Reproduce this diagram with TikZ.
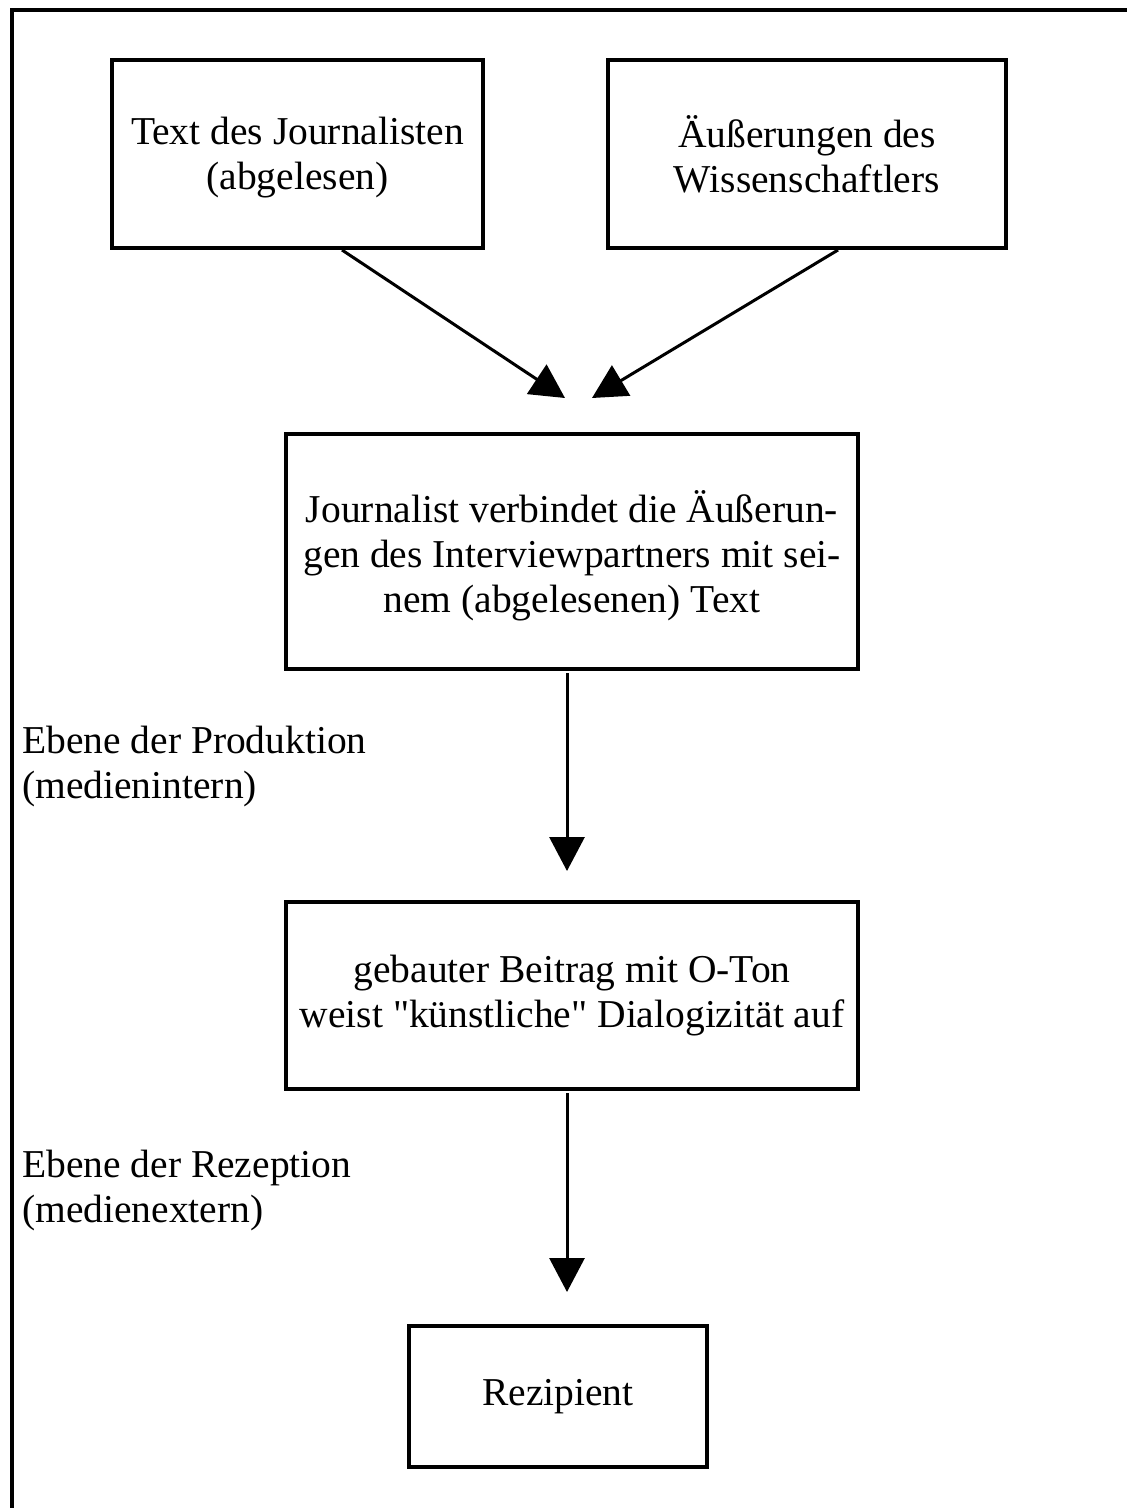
\documentclass[tikz,border=0pt]{standalone}
\usepackage{fontspec}
\setmainfont{Liberation Serif}
\newfontfamily\plainq{Liberation Serif}
\usetikzlibrary{arrows.meta}
\newcommand{\straightq}{{\plainq"}}
\begin{document}
\begin{tikzpicture}[x=1pt,y=-1pt,
  boxnode/.style={draw,line width=4pt,inner sep=0pt,align=center,
    font=\fontsize{39.5}{45}\selectfont},
  labelnode/.style={inner sep=0pt,align=left,anchor=north west,
    font=\fontsize{39.5}{45}\selectfont},
  arr/.style={line width=3pt,-{Triangle[length=34pt,width=35pt]}}]
\useasboundingbox (0,0) rectangle (1127,1508);
\draw[line width=4pt] (12,1510) -- (12,10) -- (1129,10);
\node[boxnode,minimum width=371pt,minimum height=187.5pt] (jour) at (297.5,154)
  {\rule{0pt}{35pt}Text des Journalisten\\(abgelesen)};
\node[boxnode,minimum width=398pt,minimum height=187.5pt] (wiss) at (807,154)
  {Äußerungen des\\Wissenschaftlers};
\node[boxnode,minimum width=572pt,minimum height=235pt] (mid) at (572,551.5)
  {\rule{0pt}{40.5pt}Journalist verbindet die Äußerun-\\gen des Interviewpartners mit sei-\\nem (abgelesenen) Text};
\node[boxnode,minimum width=572pt,minimum height=187pt] (beitrag) at (572,995.5)
  {gebauter Beitrag mit O-Ton\\weist \straightq künstliche\straightq{} Dialogizität auf};
\node[boxnode,minimum width=298pt,minimum height=141pt] (rez) at (558,1396.5)
  {Rezipient};
\node[labelnode] (prod) at (22,726) {Ebene der Produktion\\(medienintern)};
\node[labelnode] (rezep) at (22,1150) {Ebene der Rezeption\\(medienextern)};
\coordinate (s1) at (342,250);
\coordinate (t1) at (565,398);
\coordinate (s2) at (838,250);
\coordinate (t2) at (592,398);
\coordinate (s3) at (567,673);
\coordinate (t3) at (567,871);
\coordinate (s4) at (567,1093);
\coordinate (t4) at (567,1292);
\draw[arr] (s1) -- (t1);
\draw[arr] (s2) -- (t2);
\draw[arr] (s3) -- (t3);
\draw[arr] (s4) -- (t4);
\end{tikzpicture}
\end{document}
